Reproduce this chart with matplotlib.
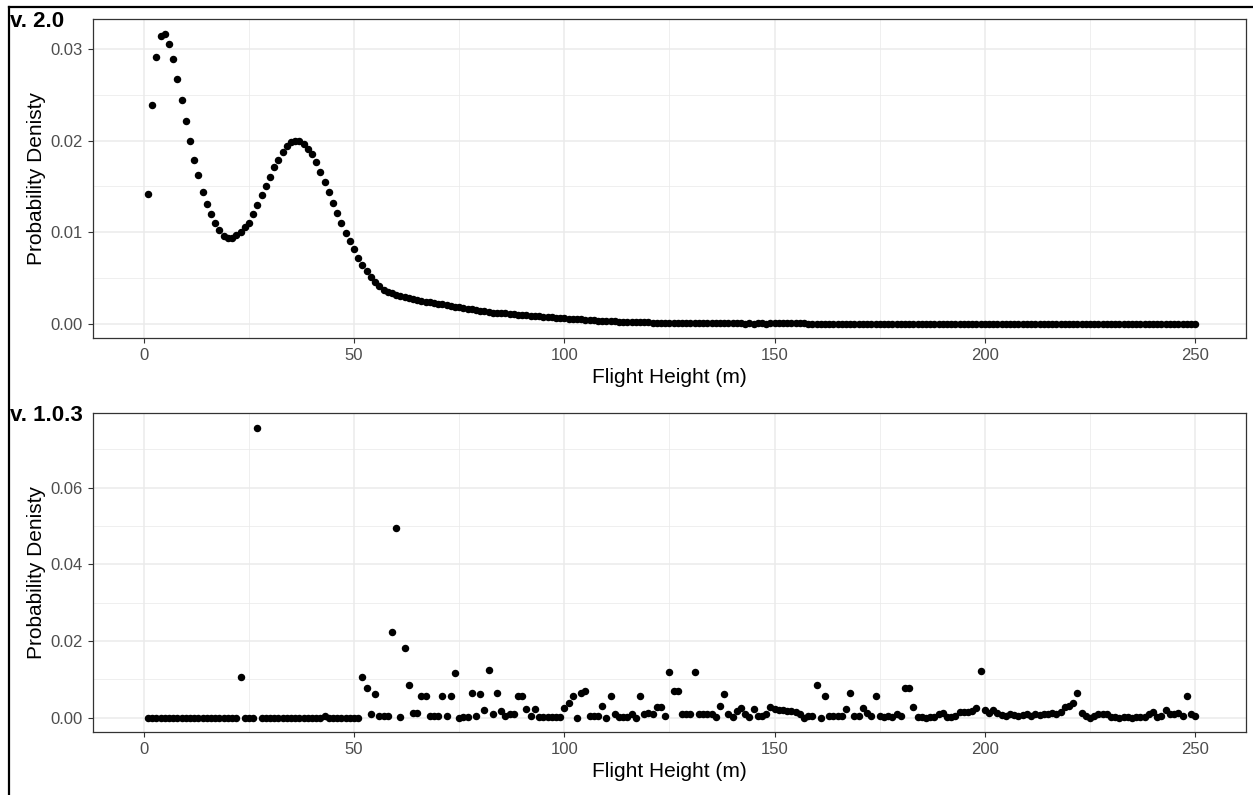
import matplotlib
matplotlib.use("Agg")
import matplotlib.pyplot as plt
from matplotlib.lines import Line2D
import numpy as np

plt.rcParams['font.family'] = ['Liberation Sans', 'DejaVu Sans']

# ---------------- data ----------------
heights = list(range(1, 251))

# v. 2.0 : smooth density, x = 1..250
v2_head = [0.0142, 0.0239, 0.0291, 0.0314, 0.0317, 0.0305, 0.0289, 0.0267, 0.0244, 0.0221,
           0.0200, 0.0179, 0.0162, 0.0144, 0.0131, 0.0120, 0.0110, 0.0102, 0.0096, 0.0094,
           0.0094, 0.0097, 0.0100, 0.0105, 0.0110, 0.0120, 0.0129, 0.0140, 0.0150, 0.0160,
           0.0171, 0.0179, 0.0187, 0.0194, 0.0198, 0.0200, 0.0200, 0.0196, 0.0191, 0.0185,
           0.0176, 0.0166, 0.0155, 0.0144, 0.0132, 0.0121, 0.0110, 0.0099, 0.0090, 0.0081,
           0.0072, 0.0064, 0.0057, 0.0051, 0.0045, 0.0041, 0.0037, 0.0034, 0.0033, 0.0031]
v2_mid = [0.0030, 0.0029, 0.0028, 0.0027, 0.0026, 0.0025, 0.0024, 0.0023, 0.0022, 0.0021,
          0.0021, 0.0020, 0.0019, 0.0018, 0.0018, 0.0017, 0.0016, 0.0016, 0.0015, 0.0014,
          0.0014, 0.0013, 0.0012, 0.0012, 0.0011, 0.0011, 0.0010, 0.0010, 0.0009, 0.0009,
          0.0009, 0.0008, 0.0008, 0.0008, 0.0007, 0.0007, 0.0007, 0.0006, 0.0006, 0.0006,
          0.0005, 0.0005, 0.0005, 0.0005, 0.0004, 0.0004, 0.0004, 0.0003, 0.0003, 0.0003,
          0.0003, 0.0003, 0.0002, 0.0002, 0.0002, 0.0002, 0.0002, 0.0002, 0.0002, 0.0002]
v2_tail = [0.0001, 0.0001, 0.0001, 0.0001, 0.0001, 0.0001, 0.0001, 0.0001, 0.0001, 0.0001,
           0.0001, 0.0001, 0.0001, 0.0001, 0.0001, 0.0001, 0.0001, 0.0001, 0.0001, 0.0001,
           0.0001, 0.0001, 0.0000, 0.00005, 0.0000, 0.0001, 0.00005, 0.0000, 0.0001, 0.0001,
           0.0001, 0.0001, 0.0001, 0.0001, 0.0001, 0.0001, 0.0001, 0.0000, 0.0000, 0.0000]
v2_zero = [0.0] * 90
v2_density = v2_head + v2_mid + v2_tail + v2_zero

# v. 1.0.3 : irregular density, x = 1..250
v1_a = [0.0, 0.0, 0.0, 0.0, 0.0, 0.0, 0.0, 0.0, 0.0, 0.0,
        0.0, 0.0, 0.0, 0.0, 0.0, 0.0, 0.0, 0.0, 0.0, 0.0,
        0.0, 0.0, 0.0107, 0.0, 0.0, 0.0, 0.0757, 0.0, 0.0, 0.0,
        0.0, 0.0, 0.0, 0.0, 0.0, 0.0, 0.0, 0.0, 0.0, 0.0,
        0.0, 0.0, 0.0005, 0.0, 0.0, 0.0, 0.0, 0.0, 0.0, 0.0,
        0.0, 0.0107, 0.0076, 0.0008, 0.0061, 0.0003, 0.0003, 0.0003, 0.0223, 0.0494]
v1_b = [0.0002, 0.0182, 0.0084, 0.0012, 0.0012, 0.0057, 0.0057, 0.0003, 0.0003, 0.0003,
        0.0057, 0.0003, 0.0057, 0.0115, 0.0000, 0.0002, 0.0002, 0.0065, 0.0003, 0.0061,
        0.0019, 0.0125, 0.0008, 0.0065, 0.0017, 0.0003, 0.0008, 0.0008, 0.0057, 0.0057,
        0.0021, 0.0003, 0.0023, 0.0002, 0.0001, 0.0002, 0.0002, 0.0002, 0.0001, 0.0026,
        0.0039, 0.0057, 0.0000, 0.0065, 0.0068, 0.0003, 0.0003, 0.0003, 0.0030, 0.0000,
        0.0057, 0.0008, 0.0002, 0.0002, 0.0002, 0.0008, 0.0000, 0.0057, 0.0008, 0.0012]
v1_c = [0.0008, 0.0028, 0.0028, 0.0003, 0.0119, 0.0069, 0.0069, 0.0008, 0.0008, 0.0008,
        0.0119, 0.0008, 0.0008, 0.0008, 0.0008, 0.0002, 0.0030, 0.0061, 0.0008, 0.0002,
        0.0017, 0.0025, 0.0008, 0.0002, 0.0021, 0.0003, 0.0003, 0.0008, 0.0028, 0.0023,
        0.0020, 0.0019, 0.0018, 0.0018, 0.0015, 0.0010, 0.0000, 0.0003, 0.0003, 0.0084,
        0.0000, 0.0056, 0.0003, 0.0003, 0.0003, 0.0003, 0.0023, 0.0065, 0.0003, 0.0003,
        0.0025, 0.0012, 0.0005, 0.0057, 0.0003, 0.0002, 0.0003, 0.0002, 0.0008, 0.0003]
v1_d = [0.0076, 0.0076, 0.0028, 0.0002, 0.0002, 0.0000, 0.0002, 0.0002, 0.0008, 0.0013,
        0.0002, 0.0002, 0.0005, 0.0015, 0.0015, 0.0015, 0.0017, 0.0025, 0.0121, 0.0019,
        0.0013, 0.0019, 0.0011, 0.0006, 0.0005, 0.0008, 0.0006, 0.0005, 0.0006, 0.0008,
        0.0005, 0.0008, 0.0006, 0.0008, 0.0010, 0.0012, 0.0010, 0.0015, 0.0028, 0.0030,
        0.0039, 0.0065, 0.0012, 0.0003, 0.0000, 0.0003, 0.0010, 0.0010, 0.0010, 0.0002,
        0.0002, 0.0000, 0.0002, 0.0002, 0.0000, 0.0002, 0.0002, 0.0002, 0.0008, 0.0015]
v1_e = [0.0002, 0.0005, 0.0019, 0.0008, 0.0008, 0.0012, 0.0003, 0.0057, 0.0010, 0.0003]
v1_density = v1_a + v1_b + v1_c + v1_d + v1_e

panels = [("v. 2.0", v2_density), ("v. 1.0.3", v1_density)]
x_ticks = [0, 50, 100, 150, 200, 250]
y_ticks = [[0.00, 0.01, 0.02, 0.03], [0.00, 0.02, 0.04, 0.06]]
x_label = "Flight Height (m)"
y_label = "Probability Denisty"

# ---------------- figure ----------------
W, H = 1253, 795
fig = plt.figure(figsize=(W / 100, H / 100), dpi=100)

left_px, right_px = 92.5, 1246
boxes = [(19, 338), (413, 732)]
tag_y = [11, 405]

grid_major = "#EBEBEB"
txt_gray = "#4D4D4D"

for i, ((tag, vals), (top, bot)) in enumerate(zip(panels, boxes)):
    ax = fig.add_axes([left_px / W, 1 - bot / H, (right_px - left_px) / W, (bot - top) / H])
    ax.scatter(heights, vals, s=29, color="black", linewidths=0, zorder=3)
    ymax = max(vals)
    pad = 0.05 * ymax
    ax.set_ylim(-pad, ymax + pad)
    ax.set_xlim(-12.2, 262.1)
    ax.set_xticks(x_ticks)
    ax.set_xticklabels([str(t) for t in x_ticks])
    yt = y_ticks[i]
    ax.set_yticks(yt)
    ax.set_yticklabels([f"{t:.2f}" for t in yt])
    step = yt[1] - yt[0]
    ax.set_xticks([25, 75, 125, 175, 225], minor=True)
    minors = [t + step / 2 for t in yt] + [yt[0] - step / 2]
    ax.set_yticks([m for m in minors if -pad < m < ymax + pad], minor=True)
    ax.grid(True, which="major", color=grid_major, linewidth=1.1, zorder=0)
    ax.grid(True, which="minor", color=grid_major, linewidth=0.55, zorder=0)
    ax.set_axisbelow(True)
    ax.tick_params(which="minor", length=0)
    ax.tick_params(which="major", length=3.5, width=0.8, color="#333333",
                   labelcolor=txt_gray, labelsize=12, pad=3.8)
    for sp in ax.spines.values():
        sp.set_color("#333333")
        sp.set_linewidth(0.9)
    ax.set_xlabel(x_label, fontsize=15, color="black", labelpad=3.5)
    ax.set_ylabel(y_label, fontsize=15, color="black", labelpad=3)
    fig.text(10 / W, 1 - tag_y[i] / H, tag, fontsize=16, fontweight="bold",
             ha="left", va="top")

# outer frame lines (left and top)
fig.add_artist(Line2D([9 / W, 9 / W], [0, 1 - 7 / H], color="black", linewidth=1.6,
                      transform=fig.transFigure))
fig.add_artist(Line2D([9 / W, 1], [1 - 7 / H, 1 - 7 / H], color="black", linewidth=1.6,
                      transform=fig.transFigure))

fig.savefig("out.png", dpi=100)
